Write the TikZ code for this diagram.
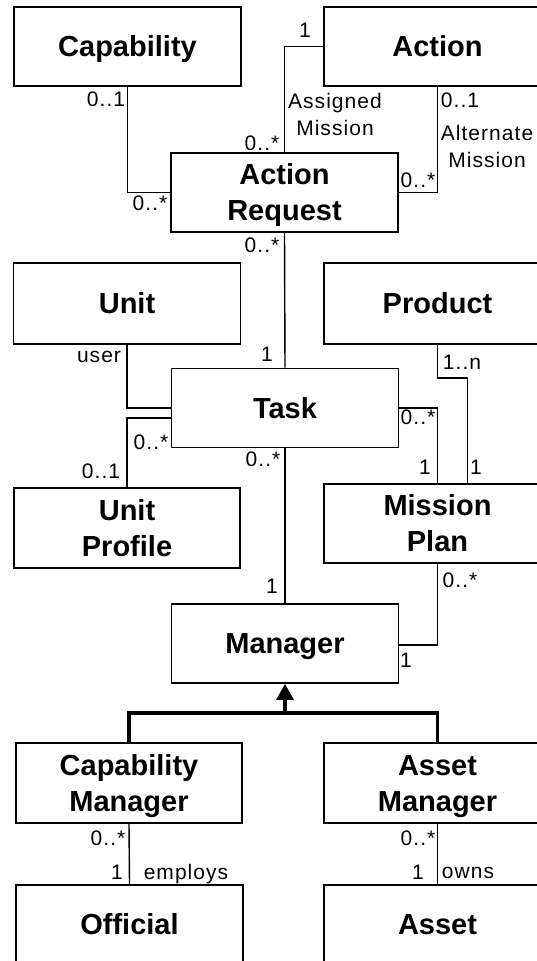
\documentclass[tikz,border=0pt]{standalone}
\usepackage{fontspec}
\setmainfont{Liberation Sans}
\newfontfamily\lblfont[LetterSpace=5]{Liberation Sans}
\usetikzlibrary{arrows.meta}
\tikzset{
  cls/.style={draw=black, line width=1.8pt, fill=white, minimum width=227pt,
    minimum height=79pt, inner sep=0pt, align=center,
    font=\bfseries\fontsize{29}{36}\selectfont},
  one/.style={cls, text height=20.8pt, text depth=0pt},
  two/.style={cls, text height=56.8pt, text depth=0pt},
  assoc/.style={draw=black, line width=1.4pt},
  gen/.style={draw=black, line width=3.5pt},
  lbl/.style={inner sep=0pt, font=\lblfont\fontsize{21}{21}\selectfont, text height=15pt, text depth=0pt},
  lbltwo/.style={inner sep=0pt, align=center, font=\lblfont\fontsize{21}{27}\selectfont}
}
\begin{document}
\begin{tikzpicture}[x=1pt, y=-1pt]
\useasboundingbox (0,0) rectangle (537,961);
\clip (0,0) rectangle (537,961);
\fill[white] (0,0) rectangle (537,961);
% classes
\node[one] (cap) at (127.5,46.5) {Capability};
\node[one] (act) at (437.5,46.5) {Action};
\node[two] (ar) at (284.5,192.5) {Action\\Request};
\node[one, minimum height=81pt] (unit) at (127,303.5) {Unit};
\node[one, minimum height=81pt] (prod) at (437.5,303.5) {Product};
\node[one] (task) at (285,408) {Task};
\node[two, minimum width=226pt, minimum height=80pt] (up) at (127,528) {Unit\\Profile};
\node[two] (mp) at (437.5,523.5) {Mission\\Plan};
\node[one] (mgr) at (285,643.5) {Manager};
\node[two, minimum width=226pt, minimum height=80pt] (cm) at (129,783) {Capability\\Manager};
\node[two, minimum height=80pt] (am) at (437.5,783) {Asset\\Manager};
\node[one] (off) at (129.5,924.5) {Official};
\node[one] (asset) at (437.5,924.5) {Asset};
% associations
\draw[assoc] (cap.south) |- (ar.west);
\draw[assoc] (act.west) -| (ar.north);
\draw[assoc] (act.south) |- (ar.east);
\draw[assoc] (ar.south) -- (task.north);
\draw[assoc] (unit.south) |- (task.west);
\draw[assoc] ([yshift=-10pt]task.west) -| (up.north);
\draw[assoc] (task.east) -| (mp.north);
\draw[assoc] (prod.south) -- ++(0,33) -| ([xshift=30pt]mp.north);
\draw[assoc] (task.south) -- (mgr.north);
\draw[assoc] (mp.south) |- ([yshift=-1.5pt]mgr.east);
\draw[assoc] (cm.south) -- (off.north);
\draw[assoc] (am.south) -- (asset.north);
% generalization
\coordinate (bar) at (285,713);
\draw[gen] (cm.north) |- (bar) -| (am.north);
\draw[gen, -{Triangle[length=16pt, width=17pt]}] (bar) -- (mgr.south);
% multiplicities and roles
\node[lbl] (m1) at (106,99) {0..1};
\node[lbl] (m2) at (150,203) {0..*};
\node[lbl] (m3) at (305,30) {1};
\node[lbl] (m4) at (262,143) {0..*};
\node[lbltwo] (r1) at (335,114.5) {Assigned\\Mission};
\node[lbl] (m5) at (460,100) {0..1};
\node[lbltwo] (r2) at (487,146.5) {Alternate\\Mission};
\node[lbl] (m6) at (418,180) {0..*};
\node[lbl] (m7) at (262,245) {0..*};
\node[lbl] (m8) at (267,354) {1};
\node[lbl] (r3) at (99,355) {user};
\node[lbl] (m9) at (151,442) {0..*};
\node[lbl] (m10) at (101,471) {0..1};
\node[lbl] (m11) at (263,459) {0..*};
\node[lbl] (m12) at (462,362) {1..n};
\node[lbl] (m13) at (418,417) {0..*};
\node[lbl] (m14) at (425,467) {1};
\node[lbl] (m15) at (476,467) {1};
\node[lbl] (m16) at (272,586) {1};
\node[lbl] (m17) at (460,580) {0..*};
\node[lbl] (m18) at (406,660) {1};
\node[lbl] (m19) at (108,838) {0..*};
\node[lbl] (m20) at (117,872) {1};
\node[lbl] (r4) at (186,872) {employs};
\node[lbl] (m21) at (418,838) {0..*};
\node[lbl] (m22) at (418,872) {1};
\node[lbl] (r5) at (468,871) {owns};
\end{tikzpicture}
\end{document}
